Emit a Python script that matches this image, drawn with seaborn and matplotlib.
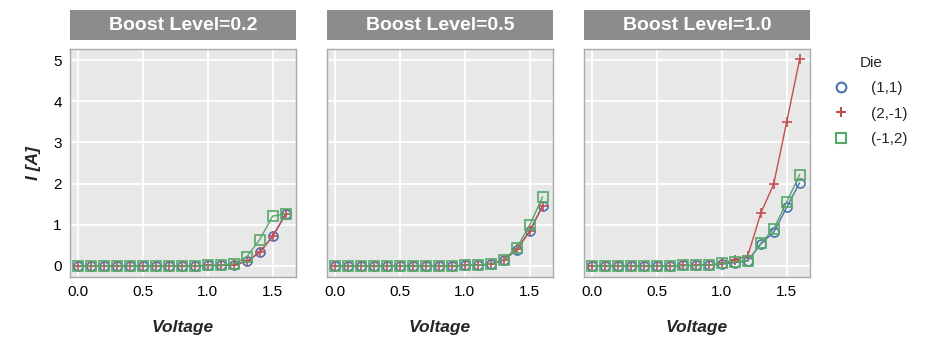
import numpy as np
import pandas as pd
import seaborn as sns
import matplotlib
matplotlib.use("Agg")
import matplotlib.pyplot as plt
from matplotlib.patches import Rectangle
from matplotlib.lines import Line2D

voltage = [0.0, 0.1, 0.2, 0.3, 0.4, 0.5, 0.6, 0.7, 0.8, 0.9, 1.0, 1.1, 1.2, 1.3, 1.4, 1.5, 1.6]
boost_levels = [0.2, 0.5, 1.0]
dies = ["(1,1)", "(2,-1)", "(-1,2)"]

# Boost 0.2
i_11_b02 = [0, 0, 0, 0, 0, 0, 0, 0, 0, 0, 0.01, 0.01, 0.03, 0.11, 0.33, 0.72, 1.25]
i_21_b02 = [0, 0, 0, 0, 0, 0, 0, 0, 0, 0, 0.01, 0.01, 0.03, 0.11, 0.33, 0.72, 1.26]
i_m12_b02 = [0, 0, 0, 0, 0, 0, 0, 0, 0, 0, 0.01, 0.02, 0.05, 0.22, 0.64, 1.21, 1.26]
# Boost 0.5
i_11_b05 = [0, 0, 0, 0, 0, 0, 0, 0, 0, 0, 0.01, 0.02, 0.04, 0.14, 0.39, 0.84, 1.46]
i_21_b05 = [0, 0, 0, 0, 0, 0, 0, 0, 0, 0, 0.01, 0.02, 0.04, 0.14, 0.40, 0.85, 1.46]
i_m12_b05 = [0, 0, 0, 0, 0, 0, 0, 0, 0, 0, 0.01, 0.02, 0.05, 0.15, 0.44, 0.99, 1.68]
# Boost 1.0
i_11_b10 = [0, 0, 0, 0, 0, 0, 0, 0.01, 0.01, 0.02, 0.04, 0.08, 0.12, 0.53, 0.82, 1.42, 2.02]
i_21_b10 = [0, 0, 0, 0, 0, 0, 0, 0.01, 0.01, 0.02, 0.06, 0.15, 0.25, 1.28, 1.99, 3.50, 5.02]
i_m12_b10 = [0, 0, 0, 0, 0, 0, 0, 0.01, 0.01, 0.02, 0.06, 0.10, 0.13, 0.55, 0.90, 1.55, 2.22]

series = {
    (0.2, "(1,1)"): i_11_b02, (0.2, "(2,-1)"): i_21_b02, (0.2, "(-1,2)"): i_m12_b02,
    (0.5, "(1,1)"): i_11_b05, (0.5, "(2,-1)"): i_21_b05, (0.5, "(-1,2)"): i_m12_b05,
    (1.0, "(1,1)"): i_11_b10, (1.0, "(2,-1)"): i_21_b10, (1.0, "(-1,2)"): i_m12_b10,
}
rows = []
for (b, d), vals in series.items():
    for v, i in zip(voltage, vals):
        rows.append({"Voltage": v, "I": i, "Die": d, "Boost Level": b})
df = pd.DataFrame(rows)

colors = {"(1,1)": "#4C72B0", "(2,-1)": "#C44E52", "(-1,2)": "#55A868"}
markers = {"(1,1)": "o", "(2,-1)": "+", "(-1,2)": "s"}

sns.set_style("white")
plt.rcParams['font.family'] = ['Liberation Sans', 'DejaVu Sans']

g = sns.FacetGrid(df, col="Boost Level", col_order=boost_levels, sharey=True, sharex=True)
g.figure.set_size_inches(9.27, 3.53)
g.figure.set_dpi(100)

def draw(data, **kws):
    ax = plt.gca()
    for d in dies:
        sub = data[data["Die"] == d]
        sns.lineplot(data=sub, x="Voltage", y="I", ax=ax, color=colors[d], lw=1.0,
                     marker=markers[d], markersize=6.5, markerfacecolor="none",
                     markeredgecolor=colors[d], markeredgewidth=1.2, legend=False,
                     errorbar=None)

g.map_dataframe(draw)

fig = g.figure
W, H = 927, 353
lefts = [70, 327, 584]
for ax, lx, b in zip(g.axes.flat, lefts, boost_levels):
    ax.set_position([lx / W, 1 - 277 / H, 226 / W, 228 / H])
    ax.set_facecolor("#E8E8E8")
    ax.grid(True, color="white", lw=1.3)
    ax.set_axisbelow(True)
    for s in ax.spines.values():
        s.set_visible(True)
        s.set_color("#AAAAAA")
        s.set_linewidth(1.0)
    ax.set_xlim(-0.065, 1.68)
    ax.set_ylim(-0.27, 5.27)
    ax.set_xticks([0.0, 0.5, 1.0, 1.5])
    ax.set_xticklabels(["0.0", "0.5", "1.0", "1.5"])
    ax.set_yticks([0, 1, 2, 3, 4, 5])
    ax.tick_params(length=0, labelsize=11, pad=6, colors="black")
    ax.set_title("")
    ax.set_xlabel("Voltage", fontsize=12.5, fontweight="bold", fontstyle="italic", labelpad=15)
    ax.set_ylabel("")
    ax.add_patch(Rectangle((0, 1.0395), 1, 0.1315, transform=ax.transAxes,
                           facecolor="#8C8C8C", edgecolor="none", clip_on=False))
    ax.text(0.5, 1.105, f"Boost Level={b}", transform=ax.transAxes, ha="center", va="center",
            color="white", fontsize=14, fontweight="bold")

g.axes.flat[0].set_ylabel("I [A]", fontsize=12.5, fontweight="bold", fontstyle="italic", labelpad=9)
for ax in list(g.axes.flat)[1:]:
    ax.tick_params(labelleft=False)

handles = [Line2D([], [], ls="none", marker=markers[d], color=colors[d], markerfacecolor="none",
                  markeredgewidth=1.5, markersize=7) for d in dies]
leg = fig.legend(handles, dies, title="Die", loc="upper left", bbox_to_anchor=(820 / W, 1 - 42 / H),
                 frameon=False, fontsize=11, title_fontsize=11, handlelength=1.0,
                 handletextpad=1.45, labelspacing=0.75)

fig.savefig("out.png", dpi=100)
